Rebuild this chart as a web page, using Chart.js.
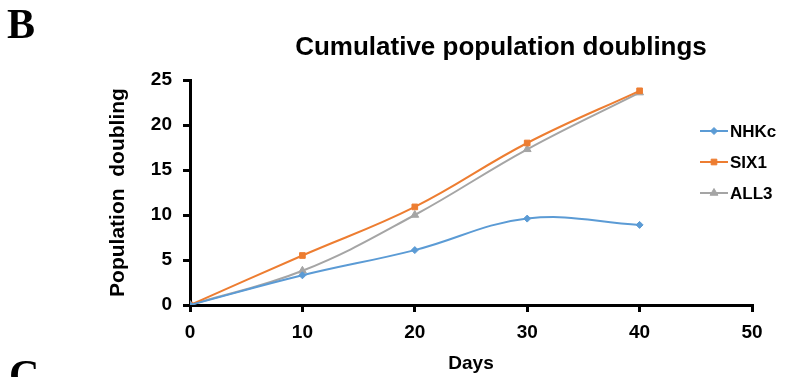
<!DOCTYPE html>
<html>
<head>
<meta charset="utf-8">
<script src="https://cdn.jsdelivr.net/npm/chart.js@4.4.1/dist/chart.umd.min.js"></script>
<style>
    html, body { margin: 0; padding: 0; background: #fff; }
    #wrap { width: 789px; height: 377px; position: relative; }
</style>
</head>
<body>
<div id="wrap"><canvas id="doublings_line"></canvas></div>
<script>
const days = [0, 10, 20, 30, 40];
const nhkc = [0, 3.3, 6.1, 9.6, 8.9];
const six1 = [0, 5.5, 10.9, 18.0, 23.8];
const all3 = [0, 3.8, 10.0, 17.3, 23.6];
const series_names = ['NHKc', 'SIX1', 'ALL3'];

const FONT = "'Liberation Sans', Arial, sans-serif";

function points(values) {
    return days.map((d, i) => ({ x: d, y: values[i] }));
}

// white page, then panel letters, title and legend on top of the chart
const background = {
    id: 'background',
    beforeDraw(chart) {
        const ctx = chart.ctx;
        ctx.save();
        ctx.fillStyle = '#fff';
        ctx.fillRect(0, 0, chart.width, chart.height);
        ctx.restore();
    }
};

const extras = {
    id: 'extras',
    afterDraw(chart) {
        const ctx = chart.ctx;
        ctx.save();
        ctx.fillStyle = '#000';
        ctx.font = "bold 42px 'Liberation Serif', 'Times New Roman', serif";
        ctx.textAlign = 'left';
        ctx.textBaseline = 'alphabetic';
        ctx.fillText('B', 7, 38);
        ctx.fillText('C', 9, 389);

        ctx.font = 'bold 26px ' + FONT;
        ctx.textAlign = 'center';
        ctx.textBaseline = 'middle';
        ctx.fillText('Cumulative population doublings', 501, 48);

        ctx.font = 'bold 17px ' + FONT;
        ctx.textAlign = 'left';
        chart.data.datasets.forEach((ds, i) => {
            const y = 131 + i * 31;
            ctx.strokeStyle = ds.borderColor;
            ctx.fillStyle = ds.backgroundColor;
            ctx.lineWidth = 2;
            ctx.beginPath();
            ctx.moveTo(700, y);
            ctx.lineTo(728, y);
            ctx.stroke();
            ctx.lineWidth = 1;
            Chart.helpers.drawPoint(ctx, {
                pointStyle: ds.pointStyle,
                radius: ds.pointRadius,
                borderWidth: 1
            }, 714, y);
            ctx.fillStyle = '#000';
            ctx.fillText(ds.label, 730, y + 1);
        });
        ctx.restore();
    }
};

const colors = ['#5B9BD5', '#ED7D31', '#A5A5A5'];
const styles = ['rectRot', 'rect', 'triangle'];
const radii = [3.5, 4, 4.5];
const values = [nhkc, six1, all3];

const doublings_line = document.getElementById('doublings_line').getContext('2d');
new Chart(doublings_line, {
    type: 'line',
    data: {
        datasets: series_names.map((name, i) => ({
            label: name,
            data: points(values[i]),
            borderColor: colors[i],
            backgroundColor: colors[i],
            pointStyle: styles[i],
            pointRadius: radii[i],
            pointBorderWidth: 1,
            borderWidth: 2,
            tension: 0.4,
            fill: false
        }))
    },
    options: {
        responsive: true,
        maintainAspectRatio: false,
        animation: false,
        layout: {
            padding: { left: 106, right: 37, top: 80, bottom: 2 }
        },
        plugins: {
            legend: { display: false },
            title: { display: false },
            tooltip: { enabled: false }
        },
        scales: {
            x: {
                type: 'linear',
                min: 0,
                max: 50,
                ticks: {
                    stepSize: 10,
                    color: '#000',
                    padding: 9,
                    font: { family: FONT, size: 19, weight: 'bold' }
                },
                grid: {
                    drawOnChartArea: false,
                    drawTicks: true,
                    tickLength: 7,
                    color: '#000',
                    lineWidth: 3
                },
                border: { color: '#000', width: 3 },
                title: {
                    display: true,
                    text: 'Days',
                    color: '#000',
                    padding: { top: 6, bottom: 0 },
                    font: { family: FONT, size: 19, weight: 'bold' }
                },
                afterFit(scale) { scale.height = 70; }
            },
            y: {
                min: 0,
                max: 25,
                ticks: {
                    stepSize: 5,
                    color: '#000',
                    padding: 11,
                    font: { family: FONT, size: 19, weight: 'bold' }
                },
                grid: {
                    drawOnChartArea: false,
                    drawTicks: true,
                    tickLength: 7,
                    color: '#000',
                    lineWidth: 3
                },
                border: { color: '#000', width: 3 },
                title: {
                    display: true,
                    text: 'Population  doubling',
                    color: '#000',
                    padding: { top: 0, bottom: 0 },
                    font: { family: FONT, size: 21, weight: 'bold' }
                },
                afterFit(scale) { scale.width = 84; }
            }
        }
    },
    plugins: [background, extras]
});
</script>
</body>
</html>
